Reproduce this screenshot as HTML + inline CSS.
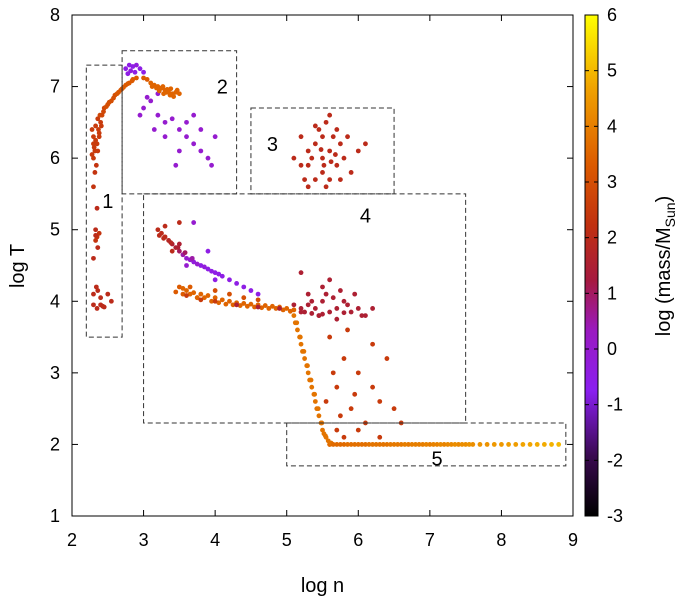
<!DOCTYPE html>
<html><head><meta charset="utf-8"><style>
body{margin:0;background:#fff;}
svg{font-family:"Liberation Sans",sans-serif;}
</style></head><body>
<svg id="chart" width="683" height="602" viewBox="0 0 683 602" xmlns="http://www.w3.org/2000/svg">
<defs><linearGradient id="cb" x1="0" y1="1" x2="0" y2="0">
<stop offset="0" stop-color="#000000"/><stop offset="0.12" stop-color="#3a0a50"/><stop offset="0.25" stop-color="#8a1ff0"/><stop offset="0.37" stop-color="#9a1ac0"/><stop offset="0.47" stop-color="#a61a40"/><stop offset="0.58" stop-color="#c03010"/><stop offset="0.7" stop-color="#dc5a00"/><stop offset="0.85" stop-color="#f0a000"/><stop offset="1" stop-color="#ffff00"/>
</linearGradient></defs>
<g id="plot"></g>
</svg>
<script>
const logN=[2.3,2.32,2.35,2.3,2.38,2.33,2.4,2.36,2.42,2.45,2.5,2.55,2.6,2.65,2.7,2.75,2.8,2.85,2.9,2.3,2.28,2.34,2.32,2.3,2.35,2.33,2.35,2.38,2.33,2.36,2.3,2.34,2.36,2.3,2.4,2.35,2.45,2.3,2.55,2.5,2.28,
2.75,2.8,2.85,2.9,2.95,2.88,2.82,3.0,2.78,
3.1,3.2,3.25,3.3,3.35,3.4,3.45,3.15,3.28,3.38,3.05,3.0,
3.0,3.1,3.2,3.3,3.4,3.5,3.6,3.7,3.8,3.9,4.0,3.6,3.5,3.3,3.45,3.8,3.95,3.2,3.05,2.95,3.15,3.7,
5.2,5.3,5.4,5.5,5.6,5.7,5.8,5.5,5.4,5.6,5.3,5.45,5.55,5.65,5.75,5.35,5.9,6.0,5.25,5.5,5.62,5.48,5.7,5.1,5.85,5.55,5.4,5.6,5.3,5.75,6.1,5.2,5.68,5.52,
3.2,3.25,3.3,3.35,3.4,3.45,3.5,3.55,3.6,3.65,3.7,3.8,3.9,4.0,4.1,4.2,4.3,4.4,4.5,4.6,3.3,3.4,3.5,3.6,3.5,3.7,3.9,4.0,
3.5,3.6,3.7,3.8,3.9,4.0,4.1,4.2,4.3,4.4,4.5,4.6,4.7,4.8,4.9,5.0,5.1,3.55,3.65,3.75,4.0,4.2,4.4,4.6,
5.2,5.3,5.4,5.5,5.6,5.7,5.8,5.9,6.0,5.5,5.6,5.3,5.45,5.75,5.2,6.1,5.65,
5.1,5.15,5.2,5.25,5.3,5.35,5.4,5.45,5.5,5.55,5.6,5.18,5.28,5.38,5.48,5.12,5.22,5.32,5.42,5.52,
5.6,5.8,6.0,6.2,5.7,5.9,6.1,6.3,5.65,5.75,6.4,6.5,5.85,6.0,5.7,6.6,6.2,5.95,5.55,6.3,5.8,
5.6,5.7,5.8,5.9,6.0,6.1,6.2,6.3,6.4,6.5,6.6,6.7,6.8,6.9,7.0,7.1,7.2,7.3,7.4,7.5,7.6,7.7,7.8,7.9,8.0,8.1,8.2,8.3,8.4,8.5,8.6,8.7,8.8,
2.33,2.37,2.31,2.39,2.44,2.48,2.52,2.58,2.63,2.68,2.72,2.78,2.84,2.38,2.41,2.36,2.33,2.4,2.43,
3.12,3.18,3.22,3.32,3.37,3.42,3.27,3.33,3.47,3.5,
3.45,3.55,3.65,3.75,3.85,3.95,4.05,4.15,4.25,4.35,4.45,4.55,4.65,4.75,4.85,4.95,5.05,3.6,3.8,4.0,4.3,4.6,4.9,5.2,5.35,5.5,5.8,
5.14,5.19,5.24,5.29,5.34,5.39,5.44,5.49,5.54,5.58,5.62,
3.22,3.28,3.38,3.48,3.58,3.68,3.75,3.85,3.95,4.05,
5.1,5.25,5.35,5.45,5.55,5.7,5.85,5.95,6.05,6.2,
5.65,5.75,5.85,5.95,6.05,6.15,6.25,6.35,6.45,6.55,6.65,6.75,6.85,6.95,7.05,7.15,7.25,7.35,7.45,7.55];
const logT=[6.0,6.1,6.2,6.3,6.35,6.45,6.5,6.55,6.6,6.7,6.75,6.8,6.88,6.92,6.97,7.02,7.05,7.1,7.12,6.2,6.4,5.9,5.8,5.6,5.3,5.0,4.9,4.95,4.85,4.75,4.6,4.2,4.15,4.1,3.95,3.9,3.92,3.95,4.0,4.1,6.05,
7.25,7.3,7.28,7.3,7.25,7.2,7.22,7.2,7.18,
7.05,7.0,6.98,6.95,6.92,6.9,6.92,7.02,6.9,6.97,7.1,7.12,
6.7,6.8,6.6,6.5,6.55,6.4,6.3,6.2,6.1,6.0,6.3,6.5,6.1,6.3,5.9,6.4,5.9,6.9,6.85,6.6,6.4,6.6,
6.3,6.1,6.2,6.0,6.1,5.9,6.0,5.8,5.7,5.7,5.9,6.4,6.5,6.3,6.2,6.0,5.8,6.1,5.7,6.3,5.95,6.12,6.4,6.0,6.3,5.6,6.45,6.6,5.6,5.7,6.2,5.9,6.05,5.9,
5.0,4.95,4.9,4.85,4.8,4.75,4.7,4.65,4.6,4.58,4.55,4.5,4.45,4.4,4.35,4.3,4.25,4.2,4.15,4.1,5.05,4.7,4.8,4.5,5.1,5.1,4.7,4.3,
4.2,4.15,4.12,4.1,4.08,4.05,4.02,4.0,3.98,3.97,3.96,3.95,3.94,3.93,3.92,3.9,3.88,4.1,4.2,4.05,4.15,4.1,4.05,4.02,
3.9,3.95,3.9,4.0,3.85,3.9,4.0,3.85,3.9,4.2,4.3,4.1,3.8,4.15,4.4,3.8,4.05,
3.8,3.6,3.4,3.2,3.0,2.8,2.6,2.4,2.2,2.1,2.0,3.5,3.1,2.7,2.3,3.7,3.3,2.9,2.5,2.15,
3.5,3.2,3.0,2.8,2.8,2.5,2.3,2.6,3.0,2.4,3.2,2.5,3.6,2.2,2.2,2.3,3.4,2.7,2.6,2.1,2.1,
2.0,2.0,2.0,2.0,2.0,2.0,2.0,2.0,2.0,2.0,2.0,2.0,2.0,2.0,2.0,2.0,2.0,2.0,2.0,2.0,2.0,2.0,2.0,2.0,2.0,2.0,2.0,2.0,2.0,2.0,2.0,2.0,2.0,
6.25,6.4,6.15,6.6,6.65,6.72,6.78,6.84,6.9,6.95,6.99,7.04,7.08,6.3,6.45,6.1,4.92,4.05,3.93,
7.0,6.98,6.94,6.92,6.88,6.86,7.0,6.96,6.95,6.9,
4.13,4.18,4.1,4.05,4.05,4.0,3.98,3.96,3.95,3.94,3.93,3.92,3.91,3.9,3.9,3.88,3.86,4.08,4.02,4.0,3.95,3.92,3.9,3.85,3.83,3.82,3.84,
3.7,3.5,3.3,3.1,2.9,2.7,2.5,2.3,2.12,2.05,2.02,
4.92,4.88,4.82,4.75,4.68,4.6,4.52,4.48,4.42,4.38,
3.95,3.85,4.0,3.8,4.1,3.75,3.95,4.1,3.8,3.9,
2.0,2.0,2.0,2.0,2.0,2.0,2.0,2.0,2.0,2.0,2.0,2.0,2.0,2.0,2.0,2.0,2.0,2.0,2.0,2.0];
const logMass=[2.5,2.5,2.5,2.5,2.5,2.5,2.5,2.5,2.8,2.8,3,3,3,3.2,3.2,3.3,3.3,3.3,3.3,2.5,2.5,2.3,2.3,2.3,2,2,2.3,2.3,2.3,2,2,2,2,2,2,2,2,2,2,2,2.5,
-0.5,-0.5,-0.5,-0.3,-0.5,-0.5,-0.3,-0.5,-0.5,
3.5,3.5,3.5,3.5,3.5,3.5,3.5,3.5,3.5,3.5,3.3,3.3,
0,0,0,0,0,0,0,0,0,0,0,0,0,0,0,0,0,0,0,0,0,0,
2,2,2,2,2,2,2,2,2,2,2,2,2,2,2,2,2,2,2,2,2,2,2,2,2,2,2,2,2,2,2,2,2,2,
2,2,2,1.8,1.5,1.5,1,0.5,0,0,-0.3,-0.5,-0.5,-0.5,-0.5,-0.5,-0.5,-0.5,-0.5,-0.5,2,2,1.5,0,2,0,-0.5,-0.5,
3.3,3.5,3.5,3.5,3.5,3.5,3.5,3.5,3.5,3.5,3.5,3.5,3.5,3.5,3.5,3.5,3.5,3.3,3.3,3.3,3,3,3,3,
1.5,1.5,1.5,1.5,1.5,1.5,1.5,1.5,1.5,1.5,1.5,1.5,1.5,1.5,1.5,1.5,1.5,
3.8,3.8,3.8,3.8,3.8,3.8,3.8,3.8,3.8,3.8,3.8,3.8,3.8,3.8,3.8,3.8,3.8,3.8,3.8,3.8,
2.5,2.5,2.5,2.5,2.5,2.5,2.5,2.5,2.5,2.5,2.5,2.5,2.5,2.5,2.5,2.5,2.5,2.5,2.5,2.5,2.5,
3.6,3.6,3.6,3.7,3.7,3.7,3.8,3.8,3.8,3.9,3.9,3.9,4,4,4,4.1,4.1,4.2,4.2,4.3,4.3,4.4,4.4,4.5,4.5,4.6,4.6,4.7,4.7,4.8,4.8,4.9,5,
2.5,2.5,2.5,2.8,2.8,3,3,3,3.2,3.2,3.3,3.3,3.3,2.5,2.5,2.5,2,2,2,
3.5,3.5,3.5,3.5,3.5,3.5,3.5,3.5,3.5,3.5,
3.3,3.5,3.5,3.5,3.5,3.5,3.5,3.5,3.5,3.5,3.5,3.5,3.5,3.5,3.5,3.5,3.5,2.5,2.5,2.5,1.5,1.5,1.5,1.5,1.5,1.5,1.5,
3.8,3.8,3.8,3.8,3.8,3.8,3.8,3.8,3.8,3.8,3.8,
2,2,1.8,1.5,1,0.5,0,-0.3,-0.5,-0.5,
1.5,1.5,1.5,1.5,1.5,1.5,1.5,1.5,1.5,1.5,
3.6,3.6,3.7,3.7,3.7,3.8,3.8,3.8,3.9,3.9,4,4,4,4.1,4.1,4.2,4.2,4.3,4.3,4.4];
const xTicks=[2,3,4,5,6,7,8,9];
const yTicks=[1,2,3,4,5,6,7,8];
const cTicks=[-3,-2,-1,0,1,2,3,4,5,6];
const boxes=[[2.2,2.7,3.5,7.3,"1",2.5,5.4],[2.7,4.3,5.5,7.5,"2",4.1,7.0],[4.5,6.5,5.5,6.7,"3",4.8,6.2],[3,7.5,2.3,5.5,"4",6.1,5.2],[5,8.9,1.7,2.3,"5",7.1,1.8]];

const L=72,R=573,T=15,B=516;
const xS=v=>L+(v-2)/7*(R-L);
const yS=v=>B-(v-1)/7*(B-T);
const cS=v=>B-(v+3)/9*(B-T);
const stops=[[-3,[0,0,0]],[-1.9,[58,10,80]],[-0.75,[138,31,240]],[0.33,[154,26,192]],[1.23,[166,26,64]],[2.2,[192,48,16]],[3.3,[220,90,0]],[4.65,[240,160,0]],[6,[255,255,0]]];
function col(m){for(let i=1;i<stops.length;i++){if(m<=stops[i][0]){const a=stops[i-1],b=stops[i],t=(m-a[0])/(b[0]-a[0]);return 'rgb('+a[1].map((c,k)=>Math.round(c+(b[1][k]-c)*t)).join(',')+')';}}return 'rgb(255,255,0)';}
const NS="http://www.w3.org/2000/svg",g=document.getElementById('plot');
function el(t,a,p){const e=document.createElementNS(NS,t);for(const k in a)e.setAttribute(k,a[k]);(p||g).appendChild(e);return e;}

const pts=el('g',{});


for(let i=0;i<logN.length;i++){
 const c=el('circle',{cx:xS(logN[i]),cy:yS(logT[i]),r:2.4,fill:col(logMass[i])},pts);
 
 
}
boxes.forEach(b=>{
 const r=el('rect',{x:xS(b[0]),y:yS(b[3]),width:xS(b[1])-xS(b[0]),height:yS(b[2])-yS(b[3]),fill:'none',stroke:'#333','stroke-dasharray':'5,3','stroke-width':1});
 
 
 const t=el('text',{x:xS(b[5]),y:yS(b[6])+7,'font-size':20,'text-anchor':'middle',fill:'#000'});
 t.textContent=b[4];
 
 
});
const fr=el('rect',{x:L,y:T,width:R-L,height:B-T,fill:'none',stroke:'#000','stroke-width':1});


xTicks.forEach(v=>{
 el('line',{x1:xS(v),x2:xS(v),y1:B,y2:B-6,stroke:'#000'});el('line',{x1:xS(v),x2:xS(v),y1:T,y2:T+6,stroke:'#000'});
 const t=el('text',{x:xS(v),y:B+30,'font-size':18,'text-anchor':'middle'});t.textContent=v;
 
 
});
yTicks.forEach(v=>{
 el('line',{x1:L,x2:L+6,y1:yS(v),y2:yS(v),stroke:'#000'});el('line',{x1:R,x2:R-6,y1:yS(v),y2:yS(v),stroke:'#000'});
 const t=el('text',{x:L-12,y:yS(v)+6,'font-size':18,'text-anchor':'end'});t.textContent=v;
 
 
});
const xt=el('text',{x:(L+R)/2,y:592,'font-size':20,'text-anchor':'middle'});xt.textContent='log n';


const yt=el('text',{x:0,y:0,'font-size':20,'text-anchor':'middle',transform:'translate(24,266) rotate(-90)'});yt.textContent='log T';


const cb=el('rect',{x:585,y:T,width:13,height:B-T,fill:'url(#cb)',stroke:'#000'});


cTicks.forEach(v=>{
 el('line',{x1:585,x2:589,y1:cS(v),y2:cS(v),stroke:'#000'});el('line',{x1:594,x2:598,y1:cS(v),y2:cS(v),stroke:'#000'});
 const t=el('text',{x:607,y:cS(v)+6,'font-size':18});t.textContent=v;
 
 
});
const ct=el('text',{x:0,y:0,'font-size':20,'text-anchor':'middle',transform:'translate(670,266) rotate(-90)'});
ct.innerHTML='log (mass/M<tspan dy="5" font-size="14">Sun</tspan><tspan dy="-5">)</tspan>';


</script>
</body></html>
